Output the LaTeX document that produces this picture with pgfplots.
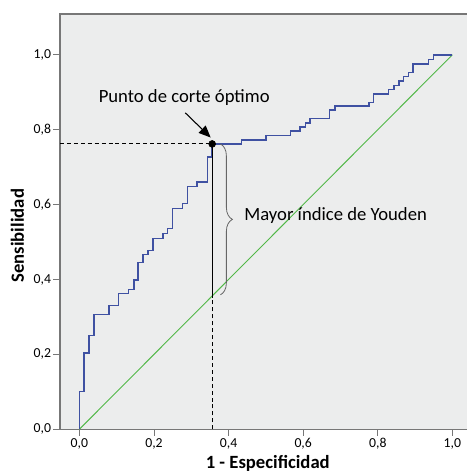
\documentclass[border=0pt]{standalone}
\usepackage{fontspec}
\setmainfont{Carlito}
\usepackage{pgfplots}
\pgfplotsset{compat=1.18}
\usetikzlibrary{arrows.meta, decorations.pathreplacing}
\definecolor{bgA}{HTML}{ECEDED}
\definecolor{frameA}{HTML}{777777}
\definecolor{rocA}{HTML}{3F51A2}
\definecolor{diagA}{HTML}{52B848}

\begin{document}
\begin{tikzpicture}
\begin{axis}[
  scale only axis,
  width=305.25pt, height=311.5pt,
  xmin=-0.052, xmax=1.039,
  ymin=0, ymax=1.109,
  clip=false,
  axis background/.style={fill=bgA},
  axis line style={draw=none},
  xtick={0,0.2,...,1.0}, ytick={0,0.2,...,1.0},
  tick pos=left, tick align=outside,
  major tick length=5pt,
  tick style={frameA, line width=0.6pt},
  xticklabel style={font=\fontsize{10.3}{12}\selectfont, inner sep=1.5pt},
  yticklabel style={font=\fontsize{10.3}{12}\selectfont, inner sep=1.5pt},
  /pgf/number format/.cd, fixed, fixed zerofill, precision=1, use comma, assume math mode=true,
]
% frame (no right edge)
\draw[frameA, line width=0.8pt] (rel axis cs:1,1) -- (rel axis cs:0,1) -- (rel axis cs:0,0) -- (rel axis cs:1,0);

% reference diagonal
\addplot[diagA, line width=0.7pt] coordinates {(0,0) (1,1)};

% ROC curve
\addplot[rocA, line width=1.15pt] coordinates {
  (0,0) (0,0.101) (0.0126,0.101) (0.0126,0.204) (0.0252,0.204) (0.0252,0.25)
  (0.0386,0.25) (0.0386,0.306) (0.0788,0.306) (0.0788,0.33) (0.1046,0.33)
  (0.1046,0.363) (0.1314,0.363) (0.1314,0.373) (0.1458,0.373) (0.1458,0.398)
  (0.157,0.398) (0.157,0.445) (0.171,0.445) (0.171,0.467) (0.184,0.467)
  (0.184,0.478) (0.197,0.478) (0.197,0.51) (0.224,0.51) (0.224,0.523)
  (0.236,0.523) (0.236,0.536) (0.25,0.536) (0.25,0.59) (0.277,0.59)
  (0.277,0.603) (0.29,0.603) (0.29,0.648) (0.316,0.648) (0.316,0.66)
  (0.343,0.66) (0.343,0.727) (0.356,0.727) (0.356,0.762) (0.434,0.762)
  (0.434,0.773) (0.5,0.773) (0.5,0.785) (0.566,0.785) (0.566,0.796)
  (0.592,0.796) (0.592,0.807) (0.606,0.807) (0.606,0.818) (0.618,0.818)
  (0.618,0.830) (0.67,0.830) (0.67,0.852) (0.685,0.852) (0.685,0.863)
  (0.777,0.863) (0.777,0.873) (0.789,0.873) (0.789,0.896) (0.829,0.896)
  (0.829,0.907) (0.843,0.907) (0.843,0.918) (0.857,0.918) (0.857,0.93)
  (0.869,0.93) (0.869,0.942) (0.882,0.942) (0.882,0.953) (0.895,0.953)
  (0.895,0.976) (0.936,0.976) (0.936,0.988) (0.949,0.988) (0.949,1) (1,1)
};

% Youden index segment and guide lines
\addplot[black, line width=0.8pt] coordinates {(0.356,0.356) (0.356,0.762)};
\addplot[black, line width=0.8pt, dash pattern=on 3pt off 2.2pt] coordinates {(0.356,0) (0.356,0.356)};
\addplot[black, line width=0.8pt, dash pattern=on 3pt off 2.2pt] coordinates {(-0.052,0.762) (0.356,0.762)};
\addplot[only marks, mark=*, mark size=2.6pt, black] coordinates {(0.356,0.762)};

% annotations
\draw[gray!80!black, line width=0.6pt, decorate, decoration={brace, amplitude=9pt}]
  (axis cs:0.378,0.762) -- (axis cs:0.378,0.359);
\node[font=\fontsize{14}{16}\selectfont] at (axis cs:0.281,0.887) {Punto de corte óptimo};
\node[font=\fontsize{14}{16}\selectfont] at (axis cs:0.687,0.570) {Mayor índice de Youden};
\draw[-{Triangle[length=9pt, width=7.5pt]}, line width=0.8pt] (axis cs:0.284,0.845) -- (axis cs:0.352,0.779);

% axis titles
\node[font=\fontsize{14}{16}\selectfont\bfseries] at (axis cs:0.505,-0.092) {1 - Especificidad};
\node[font=\fontsize{14}{16}\selectfont\bfseries, rotate=90] at (axis cs:-0.166,0.517) {Sensibilidad};

\coordinate (bl) at (rel axis cs:0,0);
\coordinate (tr) at (rel axis cs:1,1);
\end{axis}
\pgfresetboundingbox
\path ([shift={(-45pt,-32.8pt)}]bl) rectangle ([shift={(0pt,10.5pt)}]tr);
\end{tikzpicture}
\end{document}
